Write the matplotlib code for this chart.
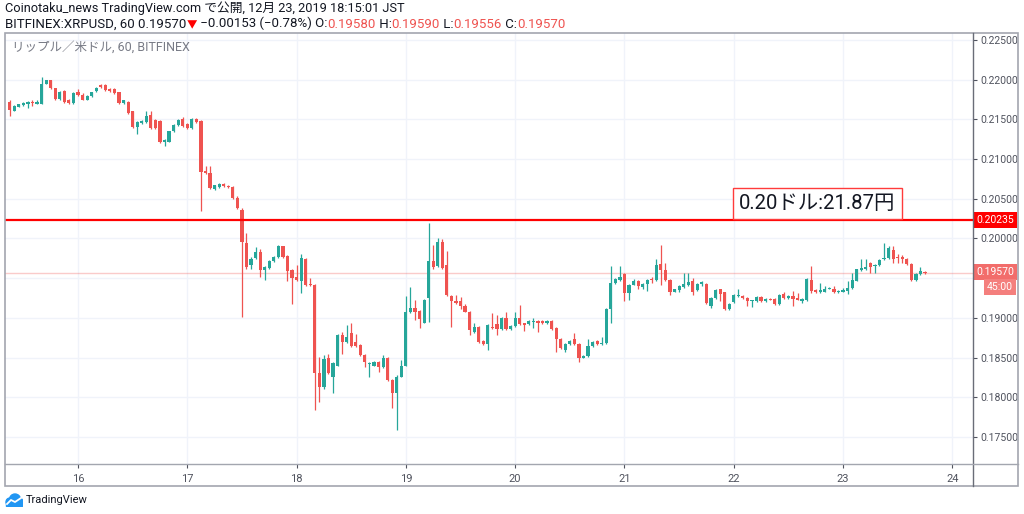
import numpy as np
import matplotlib.pyplot as plt
from matplotlib.patches import Rectangle, Circle
from matplotlib.lines import Line2D
from matplotlib.transforms import blended_transform_factory

plt.rcParams['font.family'] = ['Roboto', 'Noto Sans CJK JP', 'DejaVu Sans']

# hourly candles, BITFINEX XRPUSD, Dec 15 09:00 -> Dec 23 18:00 JST
opens = [0.2172, 0.2161, 0.2166, 0.2168, 0.2169, 0.2172, 0.2170, 0.2170, 0.2195, 0.2199,
         0.2189, 0.2176, 0.2186, 0.2175, 0.2171, 0.2184, 0.2181, 0.2175, 0.2179, 0.2186,
         0.2193, 0.2193, 0.2188, 0.2188, 0.2184, 0.2171, 0.2172, 0.2160, 0.2141, 0.2145,
         0.2147, 0.2156, 0.2149, 0.2148, 0.2121, 0.2122, 0.2135, 0.2143, 0.2151, 0.2144,
         0.2139, 0.2151, 0.2148, 0.2085, 0.2083, 0.2062, 0.2065, 0.2069, 0.2066, 0.2065,
         0.2051, 0.2036, 0.1994, 0.1966, 0.1976, 0.1983, 0.1960, 0.1963, 0.1972, 0.1977,
         0.1990, 0.1978, 0.1960, 0.1951, 0.1947, 0.1974, 0.1943, 0.1942, 0.1830, 0.1813,
         0.1849, 0.1825, 0.1840, 0.1878, 0.1870, 0.1881, 0.1870, 0.1866, 0.1853, 0.1842,
         0.1840, 0.1844, 0.1838, 0.1850, 0.1822, 0.1806, 0.1826, 0.1840, 0.1908, 0.1913,
         0.1909, 0.1894, 0.1925, 0.1972, 0.1965, 0.1996, 0.1967, 0.1928, 0.1921, 0.1921,
         0.1915, 0.1908, 0.1882, 0.1889, 0.1871, 0.1867, 0.1889, 0.1892, 0.1886, 0.1900,
         0.1886, 0.1890, 0.1900, 0.1893, 0.1892, 0.1895, 0.1896, 0.1896, 0.1893, 0.1896,
         0.1887, 0.1874, 0.1860, 0.1867, 0.1874, 0.1867, 0.1850, 0.1852, 0.1864, 0.1871,
         0.1867, 0.1868, 0.1911, 0.1944, 0.1948, 0.1955, 0.1931, 0.1942, 0.1947, 0.1939,
         0.1943, 0.1949, 0.1948, 0.1968, 0.1960, 0.1948, 0.1933, 0.1935, 0.1939, 0.1941,
         0.1946, 0.1935, 0.1943, 0.1943, 0.1915, 0.1925, 0.1936, 0.1932, 0.1911, 0.1920,
         0.1927, 0.1928, 0.1925, 0.1921, 0.1921, 0.1926, 0.1921, 0.1924, 0.1924, 0.1917,
         0.1930, 0.1925, 0.1928, 0.1925, 0.1921, 0.1922, 0.1948, 0.1935, 0.1932, 0.1933,
         0.1937, 0.1937, 0.1932, 0.1933, 0.1934, 0.1938, 0.1947, 0.1960, 0.1961, 0.1969,
         0.1965, 0.1966, 0.1974, 0.1975, 0.1986, 0.1977, 0.1977, 0.1974, 0.1968, 0.1948,
         0.1955, 0.1958]
highs = [0.2174, 0.2168, 0.2170, 0.2172, 0.2173, 0.2174, 0.2174, 0.2204, 0.2200, 0.2200,
         0.2190, 0.2186, 0.2187, 0.2176, 0.2184, 0.2188, 0.2183, 0.2181, 0.2185, 0.2191,
         0.2195, 0.2194, 0.2189, 0.2189, 0.2185, 0.2175, 0.2173, 0.2161, 0.2148, 0.2149,
         0.2160, 0.2160, 0.2151, 0.2149, 0.2125, 0.2136, 0.2144, 0.2150, 0.2153, 0.2145,
         0.2152, 0.2152, 0.2149, 0.2091, 0.2091, 0.2068, 0.2070, 0.2070, 0.2067, 0.2066,
         0.2053, 0.2038, 0.2007, 0.1977, 0.1989, 0.1987, 0.1965, 0.1973, 0.1978, 0.1992,
         0.1991, 0.1979, 0.1961, 0.1967, 0.1980, 0.1976, 0.1950, 0.1943, 0.1851, 0.1853,
         0.1855, 0.1845, 0.1880, 0.1882, 0.1891, 0.1893, 0.1880, 0.1867, 0.1855, 0.1844,
         0.1846, 0.1846, 0.1853, 0.1851, 0.1823, 0.1828, 0.1847, 0.1927, 0.1939, 0.1923,
         0.1910, 0.1924, 0.2020, 0.1992, 0.2000, 0.1999, 0.1984, 0.1929, 0.1929, 0.1926,
         0.1918, 0.1909, 0.1893, 0.1890, 0.1872, 0.1892, 0.1906, 0.1904, 0.1901, 0.1907,
         0.1891, 0.1908, 0.1916, 0.1894, 0.1897, 0.1900, 0.1897, 0.1897, 0.1897, 0.1897,
         0.1888, 0.1875, 0.1868, 0.1872, 0.1881, 0.1868, 0.1853, 0.1874, 0.1871, 0.1872,
         0.1876, 0.1912, 0.1965, 0.1950, 0.1965, 0.1957, 0.1943, 0.1949, 0.1948, 0.1944,
         0.1949, 0.1952, 0.1974, 0.1992, 0.1969, 0.1949, 0.1937, 0.1941, 0.1957, 0.1957,
         0.1950, 0.1944, 0.1947, 0.1944, 0.1926, 0.1936, 0.1937, 0.1933, 0.1919, 0.1930,
         0.1936, 0.1929, 0.1926, 0.1923, 0.1927, 0.1928, 0.1925, 0.1925, 0.1925, 0.1930,
         0.1933, 0.1929, 0.1934, 0.1931, 0.1925, 0.1950, 0.1965, 0.1936, 0.1944, 0.1940,
         0.1939, 0.1940, 0.1935, 0.1938, 0.1946, 0.1956, 0.1962, 0.1974, 0.1974, 0.1970,
         0.1968, 0.1974, 0.1994, 0.1990, 0.1990, 0.1980, 0.1979, 0.1975, 0.1969, 0.1956,
         0.1964, 0.1959]
lows = [0.2154, 0.2160, 0.2165, 0.2167, 0.2164, 0.2167, 0.2169, 0.2169, 0.2194, 0.2188,
        0.2175, 0.2175, 0.2171, 0.2170, 0.2170, 0.2180, 0.2174, 0.2174, 0.2178, 0.2185,
        0.2190, 0.2186, 0.2185, 0.2182, 0.2170, 0.2170, 0.2157, 0.2139, 0.2132, 0.2144,
        0.2146, 0.2138, 0.2138, 0.2120, 0.2117, 0.2121, 0.2134, 0.2142, 0.2141, 0.2138,
        0.2138, 0.2146, 0.2034, 0.2081, 0.2062, 0.2061, 0.2064, 0.2065, 0.2064, 0.2050,
        0.2037, 0.1901, 0.1962, 0.1961, 0.1974, 0.1952, 0.1948, 0.1962, 0.1971, 0.1976,
        0.1976, 0.1946, 0.1918, 0.1947, 0.1931, 0.1940, 0.1940, 0.1784, 0.1794, 0.1811,
        0.1829, 0.1805, 0.1839, 0.1855, 0.1869, 0.1863, 0.1863, 0.1852, 0.1838, 0.1826,
        0.1839, 0.1832, 0.1837, 0.1821, 0.1786, 0.1759, 0.1825, 0.1839, 0.1906, 0.1897,
        0.1887, 0.1893, 0.1895, 0.1962, 0.1964, 0.1962, 0.1928, 0.1889, 0.1917, 0.1911,
        0.1907, 0.1879, 0.1881, 0.1869, 0.1866, 0.1859, 0.1886, 0.1878, 0.1885, 0.1885,
        0.1885, 0.1889, 0.1891, 0.1883, 0.1891, 0.1887, 0.1882, 0.1892, 0.1892, 0.1885,
        0.1857, 0.1861, 0.1857, 0.1866, 0.1866, 0.1844, 0.1849, 0.1851, 0.1863, 0.1866,
        0.1866, 0.1867, 0.1893, 0.1943, 0.1947, 0.1921, 0.1923, 0.1941, 0.1936, 0.1936,
        0.1934, 0.1944, 0.1947, 0.1942, 0.1947, 0.1929, 0.1932, 0.1932, 0.1938, 0.1940,
        0.1929, 0.1934, 0.1940, 0.1918, 0.1912, 0.1924, 0.1921, 0.1910, 0.1910, 0.1919,
        0.1926, 0.1924, 0.1915, 0.1914, 0.1920, 0.1920, 0.1920, 0.1922, 0.1916, 0.1916,
        0.1924, 0.1924, 0.1915, 0.1922, 0.1919, 0.1921, 0.1931, 0.1931, 0.1931, 0.1932,
        0.1936, 0.1931, 0.1931, 0.1932, 0.1930, 0.1937, 0.1946, 0.1959, 0.1960, 0.1957,
        0.1957, 0.1965, 0.1973, 0.1974, 0.1969, 0.1969, 0.1969, 0.1967, 0.1947, 0.1946,
        0.1954, 0.19556]
closes = [0.2162, 0.2167, 0.2169, 0.2171, 0.2172, 0.2171, 0.2172, 0.2195, 0.2199, 0.2189,
          0.2176, 0.2185, 0.2172, 0.2171, 0.2183, 0.2181, 0.2175, 0.2180, 0.2184, 0.2190,
          0.2191, 0.2187, 0.2186, 0.2183, 0.2171, 0.2174, 0.2158, 0.2140, 0.2147, 0.2148,
          0.2154, 0.2139, 0.2139, 0.2121, 0.2124, 0.2135, 0.2143, 0.2149, 0.2142, 0.2139,
          0.2151, 0.2147, 0.2084, 0.2082, 0.2063, 0.2067, 0.2069, 0.2066, 0.2065, 0.2051,
          0.2038, 0.1995, 0.1964, 0.1974, 0.1983, 0.1960, 0.1964, 0.1972, 0.1977, 0.1990,
          0.1977, 0.1959, 0.1950, 0.1948, 0.1975, 0.1942, 0.1941, 0.1830, 0.1813, 0.1848,
          0.1830, 0.1843, 0.1878, 0.1870, 0.1876, 0.1864, 0.1864, 0.1853, 0.1844, 0.1843,
          0.1845, 0.1838, 0.1850, 0.1822, 0.1806, 0.1826, 0.1839, 0.1908, 0.1913, 0.1908,
          0.1898, 0.1922, 0.1972, 0.1964, 0.1996, 0.1963, 0.1929, 0.1921, 0.1919, 0.1915,
          0.1908, 0.1885, 0.1889, 0.1870, 0.1867, 0.1891, 0.1887, 0.1886, 0.1900, 0.1886,
          0.1890, 0.1900, 0.1892, 0.1891, 0.1896, 0.1896, 0.1893, 0.1893, 0.1896, 0.1886,
          0.1874, 0.1862, 0.1867, 0.1871, 0.1867, 0.1850, 0.1852, 0.1864, 0.1870, 0.1867,
          0.1868, 0.1911, 0.1944, 0.1949, 0.1952, 0.1931, 0.1942, 0.1947, 0.1940, 0.1943,
          0.1948, 0.1948, 0.1967, 0.1960, 0.1948, 0.1933, 0.1936, 0.1940, 0.1943, 0.1945,
          0.1933, 0.1943, 0.1945, 0.1919, 0.1925, 0.1935, 0.1930, 0.1911, 0.1918, 0.1929,
          0.1929, 0.1925, 0.1921, 0.1922, 0.1926, 0.1921, 0.1924, 0.1923, 0.1917, 0.1929,
          0.1925, 0.1928, 0.1924, 0.1923, 0.1924, 0.1949, 0.1934, 0.1932, 0.1935, 0.1937,
          0.1938, 0.1932, 0.1934, 0.1935, 0.1938, 0.1948, 0.1961, 0.1963, 0.1964, 0.1964,
          0.1967, 0.1973, 0.1976, 0.1988, 0.1974, 0.1976, 0.1974, 0.1968, 0.1948, 0.1955,
          0.1959, 0.1957]

first_hour = 15 + 9 / 24      # Dec 15, 09:00
day_ticks = [16, 17, 18, 19, 20, 21, 22, 23, 24]
price_ticks = [0.175, 0.180, 0.185, 0.190, 0.195, 0.200, 0.205, 0.210, 0.215, 0.220, 0.225]
alert_price = 0.20235
last_price = 0.19570
note = '0.20ドル:21.87円'

GREEN = '#26a69a'
RED = '#ef5350'
TXT = '#131722'

W, H = 1024, 514
def fx(px): return px / W
def fy(py): return 1 - py / H

fig = plt.figure(figsize=(W / 100, H / 100), dpi=100)
ax = fig.add_axes([fx(5), fy(464), fx(973) - fx(5), fy(33) - fy(464)])

o, h, l, c = map(np.array, (opens, highs, lows, closes))
t = first_hour + np.arange(len(o)) / 24
cols = np.where(c >= o, GREEN, RED)
ax.vlines(t, l, h, colors=cols, lw=0.9, zorder=3)
ax.bar(t, np.maximum(np.abs(c - o), 0.00008), bottom=np.minimum(o, c),
       width=0.7 / 24, color=cols, linewidth=0, zorder=4)

ax.axhline(alert_price, color='#ff0000', lw=1.6, zorder=5)
ax.axhline(last_price, color=RED, lw=1, alpha=0.3, zorder=2)

ax.set_xlim(15.332, 24.189)
ax.set_ylim(0.1716, 0.22588)
ax.set_xticks(day_ticks)
ax.set_xticklabels([str(d) for d in day_ticks])
ax.set_yticks(price_ticks)
# the 0.19500 label sits under the last-price boxes
ax.set_yticklabels(['' if abs(p - 0.195) < 1e-9 else '%.5f' % p for p in price_ticks])
ax.yaxis.tick_right()
ax.tick_params(axis='y', length=3, pad=2.5, labelsize=7.5, colors='#50535e')
ax.tick_params(axis='x', length=3, pad=4, labelsize=8, colors='#50535e')
ax.grid(True, color='#f0f3fa', lw=1, zorder=0)
for s in ax.spines.values():
    s.set_visible(False)

# boxes on the price scale
yt = blended_transform_factory(ax.transAxes, ax.transData)
ax.text(1.003, alert_price, '%.5f' % alert_price, transform=yt, color='white', fontsize=7.5,
        va='center', ha='left', clip_on=False, zorder=10,
        bbox=dict(boxstyle='square,pad=0.3', fc='#ff0000', ec='none'))
ax.text(1.003, last_price + 0.0001, '%.5f' % last_price, transform=yt, color='white', fontsize=7.5,
        va='center', ha='left', clip_on=False, zorder=10,
        bbox=dict(boxstyle='square,pad=0.3', fc='#f26d6b', ec='none'))
ax.text(1.0145, last_price - 0.0018, '45:00', transform=yt, color='white', fontsize=7.5,
        va='center', ha='left', clip_on=False, zorder=10,
        bbox=dict(boxstyle='square,pad=0.3', fc='#f47f7d', ec='none'))

ax.text(22.766, 0.20445, note, fontsize=14.7, color=TXT, ha='center', va='center', zorder=8,
        bbox=dict(boxstyle='square,pad=0.3', fc='white', ec='#ff3b3b', lw=1))

# frame and separators
fig.add_artist(Rectangle((fx(5), fy(486)), fx(1018) - fx(5), fy(33) - fy(486),
                         transform=fig.transFigure, fill=False, ec='#a3a6af', lw=1.2))
fig.add_artist(Line2D([fx(973), fx(973)], [fy(33), fy(486)], color='#6a6d78', lw=1))
fig.add_artist(Line2D([fx(5), fx(1018)], [fy(464), fy(464)], color='#a3a6af', lw=1))

fig.text(fx(12), fy(47), 'リップル／米ドル, 60, BITFINEX', fontsize=9, color='#787b86', va='center')

# header
fig.text(fx(5), fy(15), 'Coinotaku_news TradingView.com で公開, 12月 23, 2019 18:15:01 JST',
         fontsize=9.2, color=TXT, va='bottom')
fs2 = 9.5
parts = [('BITFINEX:XRPUSD, 60 0.19570', TXT, fs2), ('▼', '#ff0000', 7.5),
         (' −0.00153 (−0.78%) O:', TXT, fs2), ('0.19580', RED, fs2), (' H:', TXT, fs2),
         ('0.19590', RED, fs2), (' L:', TXT, fs2), ('0.19556', RED, fs2), (' C:', TXT, fs2),
         ('0.19570', RED, fs2)]
prev = fig.text(fx(5), fy(30.5), parts[0][0], fontsize=parts[0][2], color=parts[0][1], va='bottom')
for s, col, fs in parts[1:]:
    prev = ax.annotate(s, xy=(1, 0), xycoords=prev, fontsize=fs, color=col,
                       va='bottom', ha='left')

# TradingView logo
lax = fig.add_axes([fx(5), fy(507), fx(23) - fx(5), fy(493) - fy(507)])
lax.set_xlim(0, 18)
lax.set_ylim(0, 14)
lax.axis('off')
for cx, cy, r in [(5, 5, 4), (10, 7.5, 5.5), (14, 5, 4)]:
    lax.add_patch(Circle((cx, cy), r, color='#2196f3'))
lax.add_patch(Rectangle((1, 1), 16, 4, color='#2196f3'))
lax.plot([2, 6, 10, 16], [3, 7, 5, 9], color='white', lw=1.3)
fig.text(fx(26), fy(500), 'TradingView', fontsize=8, color=TXT, va='center')

fig.savefig('out.png', dpi=100)
